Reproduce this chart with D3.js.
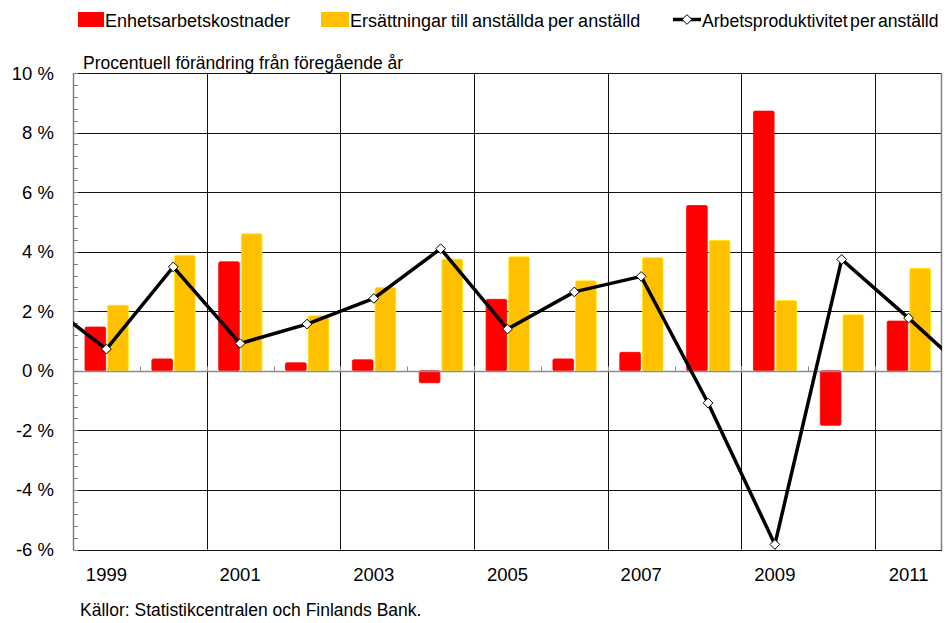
<!DOCTYPE html>
<html>
<head>
<meta charset="utf-8">
<script src="https://cdn.jsdelivr.net/npm/d3@7"></script>
<style>
  body { margin: 0; background: #fff; }
  svg { display: block; }
  text { font-family: "Liberation Sans", Arial, sans-serif; fill: #000; }
</style>
</head>
<body>
<svg id="chart" width="947" height="623"></svg>
<script>
// ---- Data ----
const years = ["1999","2000","2001","2002","2003","2004","2005","2006","2007","2008","2009","2010","2011"];
const unitLabourCosts = [1.47, 0.40, 3.66, 0.27, 0.37, -0.40, 2.40, 0.40, 0.62, 5.55, 8.72, -1.83, 1.67];
const compensationPerEmployee = [2.20, 3.88, 4.60, 1.85, 2.80, 3.75, 3.83, 3.02, 3.80, 4.38, 2.36, 1.88, 3.44];
// productivity line, including the neighbouring years that run off the plot edges
const productivityYears = [1998, 1999, 2000, 2001, 2002, 2003, 2004, 2005, 2006, 2007, 2008, 2009, 2010, 2011, 2012];
const productivity = [2.45, 0.73, 3.49, 0.92, 1.57, 2.43, 4.10, 1.40, 2.65, 3.17, -1.08, -5.83, 3.74, 1.77, -0.28];
const yTicks = [10, 8, 6, 4, 2, 0, -2, -4, -6];
const xLabelYears = ["1999","2001","2003","2005","2007","2009","2011"];
const seriesNames = ["Enhetsarbetskostnader", "Ersättningar till anställda per anställd", "Arbetsproduktivitet per anställd"];
const titleText = "Procentuell förändring från föregående år";
const sourceText = "Källor: Statistikcentralen och Finlands Bank.";

// ---- Layout ----
const svg = d3.select("#chart");
const L = 73, R = 942, T = 73, B = 549.5;
const red = "#FF0000", yellow = "#FFC000";

const x = d3.scaleBand().domain(years).range([L, R]).paddingInner(0).paddingOuter(0);
const sub = d3.scaleBand().domain([0, 1]).range([12, 55.3]).paddingInner(0.09).paddingOuter(0);
const y = d3.scaleLinear().domain([-6, 10]).range([B, T]);
const xYear = d3.scaleLinear()
  .domain([+years[0], +years[years.length - 1]])
  .range([x(years[0]) + x.bandwidth() / 2, x(years[years.length - 1]) + x.bandwidth() / 2]);

// horizontal gridlines
svg.append("g").selectAll("line")
  .data(yTicks.filter(v => v !== 0 && v !== -6))
  .join("line")
  .attr("x1", L).attr("x2", R)
  .attr("y1", d => Math.round(y(d)) + 0.5).attr("y2", d => Math.round(y(d)) + 0.5)
  .attr("stroke", "#111").attr("stroke-width", 1);

// vertical gridlines every 2 years
const vLines = d3.range(2, years.length, 2).map(i => x(years[i]));
svg.append("g").selectAll("line")
  .data(vLines)
  .join("line")
  .attr("x1", d => Math.round(d) + 0.5).attr("x2", d => Math.round(d) + 0.5)
  .attr("y1", T).attr("y2", B)
  .attr("stroke", "#111").attr("stroke-width", 1);

// right border
svg.append("line")
  .attr("x1", R - 0.5).attr("x2", R - 0.5).attr("y1", T).attr("y2", B + 0.5)
  .attr("stroke", "#808080").attr("stroke-width", 1.5);

// bottom line
svg.append("line")
  .attr("x1", L).attr("x2", R).attr("y1", Math.round(B) + 0.5).attr("y2", Math.round(B) + 0.5)
  .attr("stroke", "#111").attr("stroke-width", 1.2);

// bars
const gBars = svg.append("g");
years.forEach((yr, i) => {
  [[unitLabourCosts[i], red, 0], [compensationPerEmployee[i], yellow, 1]].forEach(([v, c, k]) => {
    gBars.append("rect")
      .attr("x", x(yr) + sub(k))
      .attr("width", sub.bandwidth())
      .attr("y", y(Math.max(0, v)))
      .attr("height", Math.abs(y(v) - y(0)))
      .attr("rx", 1.5)
      .attr("fill", c)
      .attr("stroke", d3.color(c).brighter(0.6))
      .attr("stroke-width", 0.8);
  });
});

// zero axis with small ticks at category boundaries
const y0 = Math.round(y(0)) + 0.5;
svg.append("line")
  .attr("x1", L).attr("x2", R).attr("y1", y0).attr("y2", y0)
  .attr("stroke", "#8c8c8c").attr("stroke-width", 1.5);
svg.append("g").selectAll("line")
  .data(years.slice(1).map(yr => x(yr)))
  .join("line")
  .attr("x1", d => Math.round(d) + 0.5).attr("x2", d => Math.round(d) + 0.5)
  .attr("y1", y0 - 5).attr("y2", y0)
  .attr("stroke", "#8c8c8c").attr("stroke-width", 1);

// left axis with minor ticks
svg.append("line")
  .attr("x1", L + 0.5).attr("x2", L + 0.5).attr("y1", T).attr("y2", B + 0.5)
  .attr("stroke", "#808080").attr("stroke-width", 1.5);
svg.append("g").selectAll("line")
  .data(d3.range(0, 41).map(i => -6 + i * 0.4))
  .join("line")
  .attr("x1", L).attr("x2", L + 5)
  .attr("y1", d => Math.round(y(d)) + 0.5).attr("y2", d => Math.round(y(d)) + 0.5)
  .attr("stroke", "#808080").attr("stroke-width", 1);

// clip for productivity line
svg.append("clipPath").attr("id", "plotClip")
  .append("rect").attr("x", L).attr("y", T - 10).attr("width", R - L).attr("height", B - T + 20);

const lineData = productivityYears.map((yr, i) => ({ yr, v: productivity[i] }));
const line = d3.line().x(d => xYear(d.yr)).y(d => y(d.v));
svg.append("path")
  .attr("clip-path", "url(#plotClip)")
  .attr("d", line(lineData))
  .attr("fill", "none").attr("stroke", "#000").attr("stroke-width", 3.5)
  .attr("stroke-linejoin", "miter");

const diamond = d3.symbol().type(d3.symbolDiamond2).size(60);
svg.append("g").selectAll("path")
  .data(lineData.filter(d => d.yr >= +years[0] && d.yr <= +years[years.length - 1]))
  .join("path")
  .attr("d", diamond)
  .attr("transform", d => `translate(${xYear(d.yr)},${y(d.v)})`)
  .attr("fill", "#fff").attr("stroke", "#000").attr("stroke-width", 1);

// y tick labels
svg.append("g").selectAll("text")
  .data(yTicks)
  .join("text")
  .attr("x", 54).attr("y", d => y(d) + 6.5)
  .attr("text-anchor", "end")
  .attr("font-size", 18.5)
  .text(d => `${d} %`);

// x labels
svg.append("g").selectAll("text")
  .data(xLabelYears)
  .join("text")
  .attr("x", d => x(d) + x.bandwidth() / 2)
  .attr("y", 581)
  .attr("text-anchor", "middle")
  .attr("font-size", 18.5)
  .text(d => d);

// title and source
svg.append("text").attr("x", 83).attr("y", 69).attr("font-size", 17.5).text(titleText);
svg.append("text").attr("x", 80).attr("y", 616).attr("font-size", 17.5).text(sourceText);

// legend
const lg = svg.append("g");
lg.append("rect").attr("x", 78).attr("y", 12).attr("width", 26).attr("height", 15).attr("fill", red);
lg.append("text").attr("x", 105).attr("y", 26.5).attr("font-size", 18).text(seriesNames[0]);
lg.append("rect").attr("x", 321).attr("y", 12).attr("width", 28).attr("height", 15).attr("fill", yellow);
lg.append("text").attr("x", 350).attr("y", 26.5).attr("font-size", 18)
  .attr("word-spacing", -1).text(seriesNames[1]);
lg.append("line").attr("x1", 673).attr("x2", 701).attr("y1", 19.5).attr("y2", 19.5)
  .attr("stroke", "#000").attr("stroke-width", 3.5);
lg.append("path").attr("d", diamond).attr("transform", "translate(687,19.5)")
  .attr("fill", "#fff").attr("stroke", "#000").attr("stroke-width", 1);
lg.append("text").attr("x", 702).attr("y", 26.5).attr("font-size", 17.6)
  .attr("word-spacing", -2.5).text(seriesNames[2]);
</script>
</body>
</html>
